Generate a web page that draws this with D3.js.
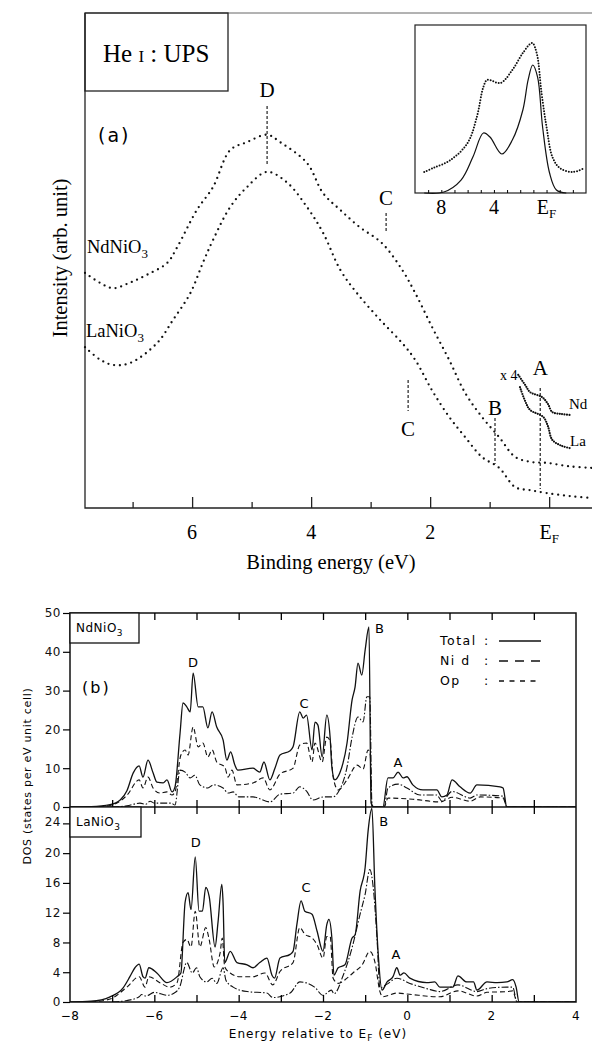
<!DOCTYPE html>
<html>
<head>
<meta charset="utf-8">
<script src="https://cdn.jsdelivr.net/npm/d3@7"></script>
<style>
  body { margin: 0; background: #fff; }
  svg { display: block; }
</style>
</head>
<body>
<div id="chart"></div>
<script>
// ---- (a) UPS spectra, binding energy (eV) vs intensity (arb.)
const upsNd = [[7.8,47.5],[7.55,45.5],[7.33,44.4],[7.05,45.5],[6.76,47.1],[6.42,49.5],[6.25,52.7],[5.92,60.2],[5.65,64.8],[5.36,72.3],[5.08,73.9],[4.74,75.4],[4.52,73.9],[4.07,69.7],[3.8,63.6],[3.51,60.2],[3.19,56.8],[2.81,53.5],[2.47,48.1],[2.25,43.4],[1.97,36.6],[1.68,29.9],[1.41,23.2],[1.13,18.4],[0.84,14.3],[0.57,10.3],[0.3,9.3],[0.03,9.1],[-0.35,8.4],[-0.72,8.1]];
const upsLa = [[7.8,32.5],[7.55,30],[7.33,28.9],[7.04,29.3],[6.59,33.3],[6.32,38],[6.03,43.4],[5.82,49.5],[5.65,54.1],[5.36,60.8],[5.08,64.8],[4.74,67.9],[4.4,65.7],[4.07,60.8],[3.8,55.6],[3.51,48.1],[3.23,43.4],[2.84,38],[2.47,33.3],[2.25,29.9],[1.97,23.8],[1.68,18.4],[1.41,14.3],[1.13,10.3],[0.84,8.1],[0.57,4.2],[0.32,3.6],[0.03,3],[-0.35,2.4],[-0.72,2]];
const x4Nd = [[0.52,26.9],[0.4,24.8],[0.32,23.4],[0.12,22.4],[0.02,21],[-0.05,19.4],[-0.2,19],[-0.35,18.8]];
const x4La = [[0.49,24.4],[0.4,21.5],[0.32,19.8],[0.1,18.4],[0.02,16.5],[-0.05,13.8],[-0.2,12.6],[-0.35,12.1]];
const insetExp = [[9.3,12.5],[8.6,14.9],[7.3,19.6],[6,29.8],[5.3,45.2],[4.8,63.1],[4.5,67.3],[3.5,65.5],[2.6,73.2],[1.8,83.3],[1.1,89.3],[0.75,83.3],[0.38,59.5],[0,39.3],[-0.45,21.4],[-1,14.9],[-2,12.5],[-2.9,14.9]];
const insetCalc = [[9.3,0],[7.8,0.6],[6.5,7.7],[5.6,21.4],[4.8,35.7],[4.3,33.3],[3.4,23.2],[2.6,31.5],[1.8,49.4],[1.4,67.3],[1.05,76.2],[0.68,69],[0.3,39.3],[-0.23,11.9],[-0.75,1.8],[-1.5,0]];
const upsTicks = [6, 4, 2, 0];
const upsTickLabels = ["6", "4", "2", "E"];
const insetTicks = [8, 4, 0];
const insetTickLabels = ["8", "4", "E"];

// ---- (b) DOS, energy relative to EF (eV) vs states per eV unit cell
const ndTotal = [[-8,0],[-7.5,0.1],[-7.05,0.6],[-6.81,1.8],[-6.65,4.2],[-6.5,8.8],[-6.36,10.6],[-6.27,7.7],[-6.15,12.1],[-6.03,8.8],[-5.94,6.4],[-5.79,6.2],[-5.7,7],[-5.58,3.9],[-5.51,5.2],[-5.39,19],[-5.32,26.8],[-5.23,25.8],[-5.15,24.5],[-5.08,34.5],[-4.96,25.8],[-4.85,25.8],[-4.73,20.4],[-4.63,24.5],[-4.52,20.6],[-4.37,17.3],[-4.28,12.1],[-4.19,14.2],[-4.09,10.8],[-4.02,9.5],[-3.66,10],[-3.5,9],[-3.4,11.6],[-3.26,7],[-3.14,10],[-3.02,13.4],[-2.78,14.5],[-2.71,15.5],[-2.55,24.5],[-2.47,22.9],[-2.39,23.7],[-2.26,14.7],[-2.19,21.9],[-2.12,21.1],[-2.02,12.9],[-1.91,23.7],[-1.83,17.8],[-1.79,10.3],[-1.72,7],[-1.6,8.8],[-1.43,16.5],[-1.31,27.6],[-1.24,30.9],[-1.17,37.1],[-1.08,34],[-1,40.5],[-0.91,46.4],[-0.86,1],[-0.8,0],[-0.58,0],[-0.46,7.5],[-0.34,7.5],[-0.22,9],[-0.1,7.5],[-0.01,7.8],[0.13,5.7],[0.37,4.4],[0.7,4.4],[0.82,2.6],[0.94,3.1],[1.06,7],[1.25,5.2],[1.49,3.6],[1.65,5.7],[2.2,5.2],[2.27,4.9],[2.36,0],[4,0]];
const ndOp = [[-7.5,0],[-7.05,0.4],[-6.65,3],[-6.36,7],[-6.27,4.9],[-6.15,7.7],[-6.03,4.9],[-5.87,3.6],[-5.7,3.9],[-5.58,3.1],[-5.51,3.9],[-5.37,13.4],[-5.27,14.7],[-5.2,13.4],[-5.08,20.6],[-4.96,15.5],[-4.85,16.5],[-4.73,12.9],[-4.63,14.7],[-4.52,11.6],[-4.33,10.3],[-4.25,7.7],[-4.16,9.5],[-4.04,5.7],[-3.66,6.2],[-3.42,7.5],[-3.26,4.4],[-3.02,8.5],[-2.71,10],[-2.55,16],[-2.39,16.5],[-2.26,11.6],[-2.19,16.5],[-2.02,11.6],[-1.91,18],[-1.83,17],[-1.76,7.7],[-1.64,4.4],[-1.43,7],[-1.19,10.8],[-1.05,9.8],[-0.93,14.7],[-0.88,13.5],[-0.84,0.2],[-0.8,0],[-0.55,0],[-0.46,2.3],[0.13,2],[0.78,1.3],[1.06,2.5],[1.49,1.5],[1.73,2.6],[2.27,2.3],[2.36,0],[4,0]];
const ndNid = [[-7,0],[-6.65,0.3],[-6.34,1],[-6.2,0.7],[-6.1,1.5],[-6,1],[-5.6,1],[-5.51,0.5],[-5.39,9.5],[-5.27,9],[-5.15,7.5],[-5.04,8.2],[-4.92,5.7],[-4.73,4.9],[-4.6,5.7],[-4.37,4.9],[-4.25,3.6],[-4.13,3.9],[-4,2.6],[-3.66,2.6],[-3.26,1.3],[-3.02,3.3],[-2.71,3.6],[-2.55,5.2],[-2.39,4.1],[-2.24,1.8],[-1.99,2.6],[-1.76,2.6],[-1.64,3.8],[-1.43,10.3],[-1.31,18],[-1.17,23.2],[-1.05,21.9],[-0.96,28.4],[-0.89,28.4],[-0.84,1],[-0.8,0],[-0.55,0],[-0.46,4.9],[-0.22,5.9],[-0.01,4.9],[0.3,3.1],[0.7,3.1],[0.82,1.5],[1.06,4],[1.49,2.3],[1.65,3.1],[2.27,2.8],[2.36,0],[4,0]];
const laTotal = [[-8,0],[-7.5,0.1],[-7.05,0.7],[-6.74,1.9],[-6.58,3.4],[-6.46,4.6],[-6.36,5.1],[-6.27,3.4],[-6.22,3.2],[-6.13,4.6],[-5.94,3.9],[-5.7,2.6],[-5.46,3.4],[-5.37,3.9],[-5.27,13.4],[-5.2,14.7],[-5.13,12.4],[-5.03,19.5],[-4.94,12.2],[-4.86,12.2],[-4.78,15.4],[-4.7,14.2],[-4.56,7.4],[-4.49,10.7],[-4.4,15.8],[-4.37,13.4],[-4.33,5.3],[-4.2,6.8],[-4.04,5.3],[-3.8,5],[-3.66,4.6],[-3.5,5.3],[-3.33,5.9],[-3.21,3.6],[-3.15,3.2],[-3.02,5.9],[-2.78,6.4],[-2.71,6.8],[-2.62,10.4],[-2.52,13.6],[-2.43,12.2],[-2.26,11.8],[-2.14,9.5],[-2,6.8],[-1.91,10.4],[-1.86,11.1],[-1.79,8.6],[-1.74,3.6],[-1.64,4.6],[-1.48,5],[-1.31,8.6],[-1.24,9],[-1.12,14.9],[-1,18.1],[-0.93,23],[-0.84,26],[-0.77,15.4],[-0.69,6.4],[-0.6,1.6],[-0.48,2.7],[-0.34,3.4],[-0.25,4.6],[-0.17,3.6],[-0.08,3.9],[0.06,3.2],[0.46,2.6],[0.65,2.7],[0.77,2],[1.08,2],[1.2,3.5],[1.41,2.7],[1.57,2.7],[1.65,1.6],[1.89,2.7],[2.13,2.6],[2.36,2.7],[2.5,3],[2.58,2],[2.65,0],[4,0]];
const laOp = [[-7.5,0],[-7.05,0.4],[-6.65,2],[-6.36,3.4],[-6.22,2],[-6.13,3.4],[-5.87,2.6],[-5.63,2],[-5.46,2.6],[-5.32,8],[-5.23,8.4],[-5.13,7.4],[-5.03,12.2],[-4.92,7.4],[-4.78,10],[-4.7,8.4],[-4.58,4.7],[-4.44,6.6],[-4.39,8.6],[-4.33,4.7],[-4.2,3.9],[-3.97,3.4],[-3.66,3.4],[-3.38,3.9],[-3.19,2.3],[-3.02,4.1],[-2.71,5.3],[-2.55,10],[-2.43,9.1],[-2.26,8.6],[-2.14,7.7],[-2,5.9],[-1.91,8.8],[-1.83,8.8],[-1.76,3.2],[-1.64,2.5],[-1.43,3.2],[-1.29,3.9],[-1.07,5],[-0.89,6.8],[-0.77,5.4],[-0.65,1.4],[-0.58,0.7],[-0.25,1.2],[0.1,1],[0.77,0.7],[1.2,1.5],[1.65,0.8],[1.89,1.3],[2.36,1.4],[2.5,1.5],[2.6,0],[4,0]];
const laNid = [[-7,0],[-6.65,0.2],[-6.36,0.7],[-6.3,1],[-6.2,0.8],[-6,1.3],[-5.7,0.9],[-5.5,1.3],[-5.4,2],[-5.23,5.3],[-5.1,3.9],[-5,4.6],[-4.92,3.4],[-4.76,2.7],[-4.63,3.2],[-4.52,2.5],[-4.37,4.6],[-4.3,2.9],[-4.13,2],[-3.8,1.4],[-3.33,1.2],[-3.19,0.6],[-2.78,1.2],[-2.55,2.7],[-2.2,2],[-2,0.9],[-1.8,1.6],[-1.74,1.1],[-1.52,3.6],[-1.31,7.3],[-1.12,11.8],[-1,14.5],[-0.89,17.8],[-0.8,14.9],[-0.72,8.6],[-0.65,1.9],[-0.48,2.4],[-0.25,3.2],[0.06,2.5],[0.46,1.8],[0.77,1.4],[1.2,2.3],[1.65,1.4],[1.89,1.8],[2.36,2],[2.5,2],[2.6,0],[4,0]];
const energyTicks = [-8, -6, -4, -2, 0, 2, 4];
const ndTicks = [0, 10, 20, 30, 40, 50];
const laTicks = [0, 4, 8, 12, 16, 20, 24];
const legendNames = ["Total", "Ni d", "Op"];
const peakNames = ["D", "C", "B", "A"];
const ndPeakE = [-5.08, -2.45, -0.9, -0.22];
const ndPeakV = [36, 25.5, 48, 10.3];
const laPeakE = [-5.02, -2.4, -0.8, -0.27];
const laPeakV = [20.8, 14.8, 25.2, 5.8];

const serif = "'Liberation Serif', 'Times New Roman', serif";
const sans = "'DejaVu Sans', sans-serif";

const svg = d3.select("#chart").append("svg")
    .attr("width", 592)
    .attr("height", 1044);

// ================= panel (a)
const xA = d3.scaleLinear().domain([7.8, -0.72]).range([85, 592]);
const yA = d3.scaleLinear().domain([0, 100]).range([508, 13]);

const gA = svg.append("g");

gA.append("path")
    .attr("d", "M85,13H592")
    .attr("stroke", "#666")
    .attr("stroke-width", 1);
gA.append("path")
    .attr("d", "M85,13V508H592")
    .attr("fill", "none")
    .attr("stroke", "#222")
    .attr("stroke-width", 1.3);

gA.append("g")
    .attr("transform", "translate(0,508)")
    .call(d3.axisTop(xA).tickValues([7, 5, 3, 1]).tickSize(6).tickFormat(""))
    .call(g => g.select(".domain").remove());
gA.append("g")
    .attr("transform", "translate(0,508)")
    .call(d3.axisTop(xA).tickValues(upsTicks).tickSize(11).tickFormat(""))
    .call(g => g.select(".domain").remove());
gA.selectAll(".tick line").attr("stroke", "#222").attr("stroke-width", 1.3);

const lblA = gA.selectAll(".ulbl")
    .data(upsTicks)
    .enter()
    .append("text")
    .attr("class", "ulbl")
    .attr("x", d => xA(d))
    .attr("y", 539)
    .attr("text-anchor", "middle")
    .attr("font-family", serif)
    .attr("font-size", 20)
    .text((d, i) => upsTickLabels[i]);
lblA.filter(d => d === 0).append("tspan")
    .attr("font-size", 13).attr("dy", 4).text("F");

gA.append("text")
    .attr("x", 331).attr("y", 569)
    .attr("text-anchor", "middle")
    .attr("font-family", serif).attr("font-size", 20.5)
    .text("Binding energy (eV)");

gA.append("text")
    .attr("transform", "translate(67,258) rotate(-90)")
    .attr("text-anchor", "middle")
    .attr("font-family", serif).attr("font-size", 20.5)
    .text("Intensity (arb. unit)");

// He I box
gA.append("rect")
    .attr("x", 85).attr("y", 13).attr("width", 143).attr("height", 78)
    .attr("fill", "none").attr("stroke", "#222").attr("stroke-width", 1.3);
const heT = gA.append("text")
    .attr("x", 103).attr("y", 62)
    .attr("font-family", serif).attr("font-size", 25);
heT.append("tspan").text("He ");
heT.append("tspan").attr("font-size", 17).text("I");
heT.append("tspan").text(" : UPS");

gA.append("text")
    .attr("x", 98).attr("y", 142)
    .attr("font-family", sans).attr("font-size", 19)
    .attr("letter-spacing", 2)
    .text("(a)");

const lineA = d3.line()
    .x(d => xA(d[0]))
    .y(d => yA(d[1]))
    .curve(d3.curveCatmullRom);

gA.selectAll(".ups")
    .data([upsNd, upsLa])
    .enter()
    .append("path")
    .attr("class", "ups")
    .attr("d", lineA)
    .attr("fill", "none")
    .attr("stroke", "#111")
    .attr("stroke-width", 2.3)
    .attr("stroke-linecap", "round")
    .attr("stroke-dasharray", "0,5.8");

gA.selectAll(".x4")
    .data([x4Nd, x4La])
    .enter()
    .append("path")
    .attr("class", "x4")
    .attr("d", lineA)
    .attr("fill", "none")
    .attr("stroke", "#111")
    .attr("stroke-width", 2.2)
    .attr("stroke-linecap", "round")
    .attr("stroke-dasharray", "0,2.4");

// compound labels
function chem(g, x, y, base) {
    const t = g.append("text")
        .attr("x", x).attr("y", y)
        .attr("font-family", serif).attr("font-size", 18.5);
    t.append("tspan").text(base + "NiO");
    t.append("tspan").attr("font-size", 13).attr("dy", 5).text("3");
}
chem(gA, 87, 253, "Nd");
chem(gA, 86, 337, "La");

// peak markers (a): letter, dashed guide
const marksA = [
    {t: "D", e: 4.74, ty: 97, y1: 106, y2: 165},
    {t: "C", e: 2.74, ty: 205, y1: 213, y2: 231},
    {t: "C", e: 2.37, ty: 436, y1: 380, y2: 411},
    {t: "B", e: 0.91, ty: 415, y1: 418, y2: 464},
    {t: "A", e: 0.15, ty: 375, y1: 388, y2: 489}
];
marksA.forEach(m => {
    gA.append("line")
        .attr("x1", xA(m.e)).attr("x2", xA(m.e))
        .attr("y1", m.y1).attr("y2", m.y2)
        .attr("stroke", "#222").attr("stroke-width", 1.2)
        .attr("stroke-dasharray", "3,2");
    gA.append("text")
        .attr("x", xA(m.e)).attr("y", m.ty)
        .attr("text-anchor", "middle")
        .attr("font-family", serif).attr("font-size", 21)
        .text(m.t);
});

gA.append("text").attr("x", 500).attr("y", 380)
    .attr("font-family", serif).attr("font-size", 14).text("x 4");
gA.append("text").attr("x", 569).attr("y", 409)
    .attr("font-family", serif).attr("font-size", 15).text("Nd");
gA.append("text").attr("x", 570).attr("y", 446)
    .attr("font-family", serif).attr("font-size", 15).text("La");

// inset
const xI = d3.scaleLinear().domain([10, -3]).range([415, 586]);
const yI = d3.scaleLinear().domain([0, 100]).range([193, 25]);
const gI = svg.append("g");
gI.append("rect")
    .attr("x", 415).attr("y", 25).attr("width", 171).attr("height", 168)
    .attr("fill", "none").attr("stroke", "#222").attr("stroke-width", 1.2);
gI.append("g")
    .attr("transform", "translate(0,193)")
    .call(d3.axisTop(xI).tickValues(d3.range(-2, 10)).tickSize(3).tickFormat(""))
    .call(g => g.select(".domain").remove());
const lblI = gI.selectAll(".ilbl")
    .data(insetTicks)
    .enter()
    .append("text")
    .attr("class", "ilbl")
    .attr("x", d => xI(d))
    .attr("y", 214)
    .attr("text-anchor", "middle")
    .attr("font-family", serif)
    .attr("font-size", 20)
    .text((d, i) => insetTickLabels[i]);
lblI.filter(d => d === 0).append("tspan")
    .attr("font-size", 13).attr("dy", 4).text("F");

const lineI = d3.line()
    .x(d => xI(d[0]))
    .y(d => yI(d[1]))
    .curve(d3.curveCatmullRom);
gI.append("path")
    .attr("d", lineI(insetExp))
    .attr("fill", "none").attr("stroke", "#111")
    .attr("stroke-width", 2).attr("stroke-linecap", "round")
    .attr("stroke-dasharray", "0,2.8");
gI.append("path")
    .attr("d", lineI(insetCalc))
    .attr("fill", "none").attr("stroke", "#111").attr("stroke-width", 1.2);

// ================= panel (b)
const xB = d3.scaleLinear().domain([-8, 4]).range([70, 576]);
const yNd = d3.scaleLinear().domain([0, 50]).range([807, 613]);
const yLa = d3.scaleLinear().domain([0, 26.2]).range([1002, 807]);
const gB = svg.append("g");

const styles = [
    {w: 1.3, dash: null},
    {w: 1.1, dash: "7,2,1.5,2"},
    {w: 1.1, dash: "5,3"}
];

function dosPanel(y, total, nid, op, clipId) {
    gB.append("clipPath").attr("id", clipId)
        .append("rect")
        .attr("x", 70).attr("y", y.range()[1])
        .attr("width", 506).attr("height", y.range()[0] - y.range()[1]);
    const line = d3.line()
        .x(d => xB(d[0]))
        .y(d => y(d[1]))
        .curve(d3.curveMonotoneX);
    gB.append("g")
        .attr("clip-path", "url(#" + clipId + ")")
        .selectAll("path")
        .data([total, nid, op])
        .enter()
        .append("path")
        .attr("d", line)
        .attr("fill", "none")
        .attr("stroke", "#111")
        .attr("stroke-width", (d, i) => styles[i].w)
        .attr("stroke-dasharray", (d, i) => styles[i].dash);
}
dosPanel(yNd, ndTotal, ndNid, ndOp, "clipNd");
dosPanel(yLa, laTotal, laNid, laOp, "clipLa");

// frame + ticks
gB.append("rect")
    .attr("x", 70).attr("y", 613).attr("width", 506).attr("height", 389)
    .attr("fill", "none").attr("stroke", "#111").attr("stroke-width", 1.5);
gB.append("line")
    .attr("x1", 70).attr("x2", 576).attr("y1", 807).attr("y2", 807)
    .attr("stroke", "#111").attr("stroke-width", 1.5);

const eTicks = d3.range(-7, 4);
[[613, d3.axisBottom], [807, d3.axisTop], [807, d3.axisBottom], [1002, d3.axisTop]].forEach(a => {
    gB.append("g")
        .attr("transform", "translate(0," + a[0] + ")")
        .call(a[1](xB).tickValues(eTicks).tickSize(7).tickFormat(""))
        .call(g => g.select(".domain").remove())
        .selectAll("line").attr("stroke-width", 1.3);
});

const axNd = gB.append("g")
    .attr("transform", "translate(70,0)")
    .call(d3.axisLeft(yNd).tickValues(ndTicks).tickSize(7).tickPadding(2));
const axLa = gB.append("g")
    .attr("transform", "translate(70,0)")
    .call(d3.axisLeft(yLa).tickValues(laTicks).tickSize(7).tickPadding(2));
[axNd, axLa].forEach(ax => {
    ax.select(".domain").remove();
    ax.selectAll("line").attr("stroke-width", 1.2);
    ax.selectAll("text")
        .attr("font-family", sans).attr("font-size", 12)
        .attr("letter-spacing", 0.5).attr("fill", "#111");
});
axLa.selectAll(".tick").filter(d => d === 24).select("text").attr("dy", "0.15em");

gB.selectAll(".elbl")
    .data(energyTicks)
    .enter()
    .append("text")
    .attr("class", "elbl")
    .attr("x", d => xB(d))
    .attr("y", 1020)
    .attr("text-anchor", "middle")
    .attr("font-family", sans).attr("font-size", 12)
    .attr("letter-spacing", 0.5)
    .text(d => d < 0 ? "\u2212" + Math.abs(d) : d);

const xt = gB.append("text")
    .attr("x", 318).attr("y", 1038)
    .attr("text-anchor", "middle")
    .attr("font-family", sans).attr("font-size", 12)
    .attr("letter-spacing", 1);
xt.append("tspan").text("Energy relative to E");
xt.append("tspan").attr("font-size", 9).attr("dy", 3).text("F");
xt.append("tspan").attr("dy", -3).text(" (eV)");

gB.append("text")
    .attr("transform", "translate(31,776) rotate(-90)")
    .attr("text-anchor", "middle")
    .attr("font-family", sans).attr("font-size", 11)
    .attr("letter-spacing", 0.7)
    .text("DOS (states per eV  unit cell)");

// compound boxes
function dosBox(y0, w, name) {
    gB.append("rect")
        .attr("x", 70).attr("y", y0).attr("width", w).attr("height", 30)
        .attr("fill", "#fff").attr("stroke", "#111").attr("stroke-width", 1.3);
    const t = gB.append("text")
        .attr("x", 76).attr("y", y0 + 19)
        .attr("font-family", sans).attr("font-size", 12)
        .attr("letter-spacing", 0.5);
    t.append("tspan").text(name + "NiO");
    t.append("tspan").attr("font-size", 9).attr("dy", 4).text("3");
}
dosBox(613, 69, "Nd");
dosBox(807, 71, "La");

gB.append("text")
    .attr("x", 82).attr("y", 693)
    .attr("font-family", sans).attr("font-size", 16)
    .attr("letter-spacing", 2)
    .text("(b)");

// peak letters
function peakLetters(y, es, vs) {
    gB.selectAll(null)
        .data(peakNames)
        .enter()
        .append("text")
        .attr("x", (d, i) => xB(es[i]) + (d === "B" ? 10 : 0))
        .attr("y", (d, i) => y(vs[i]) - (d === "B" ? -12 : 0))
        .attr("text-anchor", "middle")
        .attr("font-family", sans).attr("font-size", 13)
        .text(d => d);
}
peakLetters(yNd, ndPeakE, ndPeakV);
peakLetters(yLa, laPeakE, laPeakV);

// legend
const leg = gB.selectAll(".leg")
    .data(legendNames)
    .enter()
    .append("g")
    .attr("class", "leg")
    .attr("transform", (d, i) => "translate(440," + (645 + i * 20) + ")");
leg.append("text")
    .attr("font-family", sans).attr("font-size", 12.5)
    .attr("letter-spacing", 1.5)
    .text(d => d);
leg.append("text")
    .attr("x", 44)
    .attr("font-family", sans).attr("font-size", 12.5)
    .text(":");
leg.append("line")
    .attr("x1", 59).attr("x2", 101)
    .attr("y1", -4).attr("y2", -4)
    .attr("stroke", "#111")
    .attr("stroke-width", 1.3)
    .attr("stroke-dasharray", (d, i) => [null, "9,7", "5,5.5"][i]);
</script>
</body>
</html>
